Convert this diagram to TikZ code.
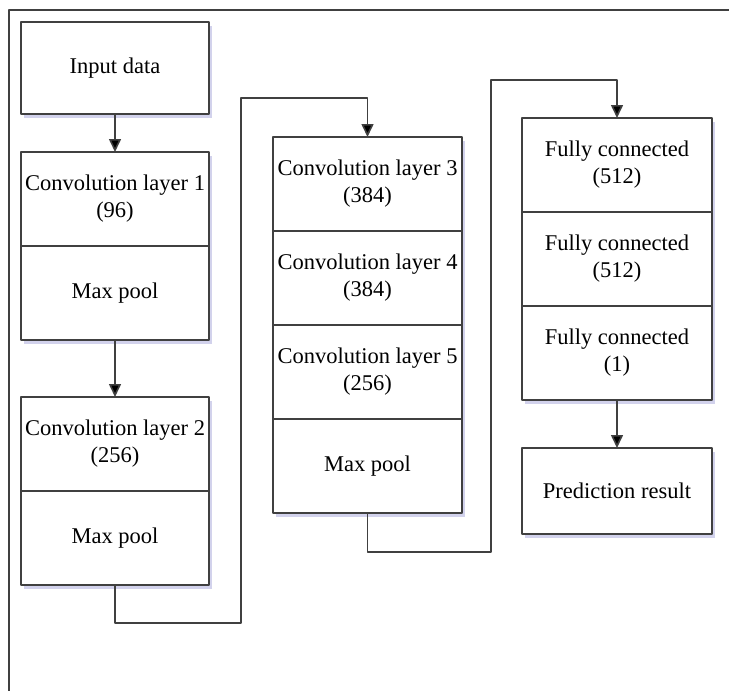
\documentclass[tikz,border=0pt]{standalone}
\usepackage{fontspec}
\setmainfont{Liberation Serif}
\usetikzlibrary{positioning,arrows.meta,shadows}
\begin{document}
\begin{tikzpicture}[x=1pt, y=-1pt, line join=round, font=\fontsize{22.5}{27}\selectfont,
  >={Triangle[width=12pt,length=13pt,fill=black]},
  cell/.style={draw=black!75, line width=1.6pt, fill=white, minimum width=188pt, minimum height=94pt,
    align=center, inner sep=2pt, outer sep=0pt,
    drop shadow={shadow xshift=3pt, shadow yshift=-4pt, fill=blue!40!gray, opacity=0.25}},
  link/.style={draw=black!75, line width=1.6pt}]
\useasboundingbox (0,0) rectangle (729,691);
\draw[link] (9,691) -- (9,10) -- (729,10);
\coordinate (turn1) at (241,98);
\coordinate (turn2) at (491,80);
\node[cell, minimum height=92pt] (input) at (115,68) {Input data};
\node[cell] (conv1) at (115,199) {Convolution layer 1\\(96)};
\node[cell, below=0pt of conv1] (pool1) {Max pool};
\node[cell] (conv2) at (115,444) {Convolution layer 2\\(256)};
\node[cell, below=0pt of conv2] (pool2) {Max pool};
\node[cell, minimum width=189pt] (conv3) at (367.5,184) {Convolution layer 3\\(384)};
\node[cell, minimum width=189pt, below=0pt of conv3] (conv4) {Convolution layer 4\\(384)};
\node[cell, minimum width=189pt, below=0pt of conv4] (conv5) {Convolution layer 5\\(256)};
\node[cell, minimum width=189pt, below=0pt of conv5] (pool3) {Max pool};
\node[cell, minimum width=190pt] (fc1) at (617,165) {Fully connected\\(512)};
\node[cell, minimum width=190pt, below=0pt of fc1] (fc2) {Fully connected\\(512)};
\node[cell, minimum width=190pt, below=0pt of fc2] (fc3) {Fully connected\\(1)};
\node[cell, minimum width=190pt, minimum height=86pt] (pred) at (617,491) {Prediction result};
\draw[link,->] (input) -- (conv1);
\draw[link,->] (pool1) -- (conv2);
\draw[link,->] (pool2.south) -- ++(0,38) -| (turn1) -| (conv3.north);
\draw[link,->] (pool3.south) -- ++(0,39) -| (turn2) -| (fc1.north);
\draw[link,->] (fc3) -- (pred);
\end{tikzpicture}
\end{document}
